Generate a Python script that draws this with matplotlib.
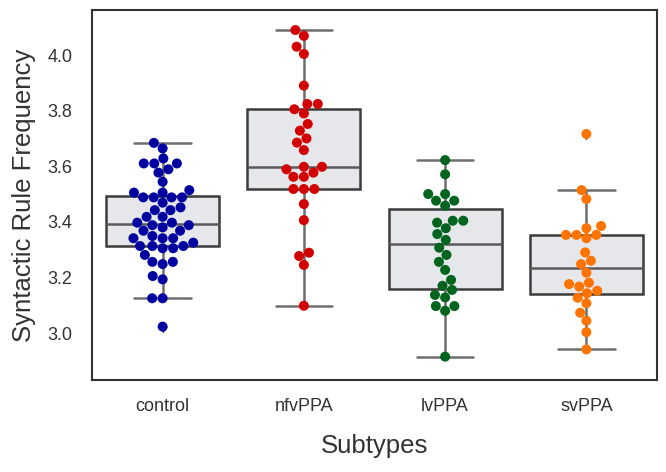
import numpy as np
import pandas as pd
import matplotlib
matplotlib.use("Agg")
import matplotlib.pyplot as plt
import seaborn as sns

categories = ["control", "nfvPPA", "lvPPA", "svPPA"]

control = [3.684, 3.664, 3.628, 3.610, 3.610, 3.610, 3.589, 3.577, 3.544, 3.514,
           3.505, 3.505, 3.488, 3.488, 3.488, 3.488, 3.469, 3.452, 3.442, 3.442,
           3.418, 3.418, 3.397, 3.397, 3.388, 3.388, 3.380, 3.368, 3.368, 3.349,
           3.341, 3.341, 3.341, 3.325, 3.313, 3.313, 3.313, 3.305, 3.305, 3.281,
           3.256, 3.256, 3.248, 3.205, 3.193, 3.125, 3.125, 3.023]
nfvppa = [4.090, 4.069, 4.030, 4.004, 3.890, 3.824, 3.824, 3.805, 3.790, 3.752,
          3.728, 3.700, 3.685, 3.658, 3.598, 3.598, 3.589, 3.577, 3.562, 3.562,
          3.518, 3.518, 3.518, 3.464, 3.406, 3.289, 3.277, 3.245, 3.098]
lvppa = [3.622, 3.571, 3.500, 3.500, 3.476, 3.476, 3.458, 3.404, 3.404, 3.397,
         3.377, 3.356, 3.335, 3.307, 3.281, 3.256, 3.227, 3.191, 3.170, 3.155,
         3.137, 3.128, 3.097, 3.097, 3.080, 2.915]
svppa = [3.716, 3.514, 3.482, 3.385, 3.377, 3.353, 3.353, 3.353, 3.341, 3.290,
         3.260, 3.248, 3.217, 3.181, 3.176, 3.167, 3.152, 3.143, 3.127, 3.107,
         3.073, 3.044, 3.003, 2.941]

palette = {"control": "#0000a0", "nfvPPA": "#d20000", "lvPPA": "#00641e", "svPPA": "#ff7300"}

series = [control, nfvppa, lvppa, svppa]
df = pd.DataFrame({
    "Subtypes": np.concatenate([[c] * len(v) for c, v in zip(categories, series)]),
    "value": np.concatenate(series),
})

sns.set_theme(style="white")
plt.rcParams["font.family"] = ["Liberation Sans", "DejaVu Sans"]

fig = plt.figure(figsize=(6.66, 4.72), dpi=100)
ax = fig.add_axes([92 / 666, 1 - 380 / 472, (657 - 92) / 666, (380 - 10) / 472])

box_edge = "#3c3c3c"
whisk = "#6e6e6e"
ax.boxplot(series, positions=range(len(categories)), widths=0.8, patch_artist=True,
           boxprops=dict(facecolor="#e6e7eb", edgecolor=box_edge, linewidth=1.8),
           medianprops=dict(color="#5a5a5a", linewidth=1.8),
           whiskerprops=dict(color=whisk, linewidth=1.8),
           capprops=dict(color=whisk, linewidth=1.8),
           flierprops=dict(marker="d", markerfacecolor="#555555", markeredgecolor="none", markersize=6),
           zorder=1)

sns.swarmplot(data=df, x="Subtypes", y="value", hue="Subtypes", palette=palette,
              order=categories, size=7.2, legend=False, ax=ax, zorder=3)

ax.set_xlim(-0.5, 3.5)
ax.set_ylim(2.831, 4.162)
ax.set_xticks(range(len(categories)))
ax.set_xticklabels(categories, fontsize=13)
ax.set_yticks([3.0, 3.2, 3.4, 3.6, 3.8, 4.0])
ax.set_yticklabels(["3.0", "3.2", "3.4", "3.6", "3.8", "4.0"], fontsize=13)
ax.tick_params(axis="both", colors="#333333", labelcolor="#333333", length=0)
ax.tick_params(axis="x", pad=13)
ax.tick_params(axis="y", pad=14)
ax.set_xlabel("Subtypes", fontsize=18.5, labelpad=14, color="#333333")
ax.set_ylabel("Syntactic Rule Frequency", fontsize=18.5, labelpad=8, color="#333333")
for s in ax.spines.values():
    s.set_color("#333333")
    s.set_linewidth(1.5)

fig.savefig("out.png", dpi=100)
